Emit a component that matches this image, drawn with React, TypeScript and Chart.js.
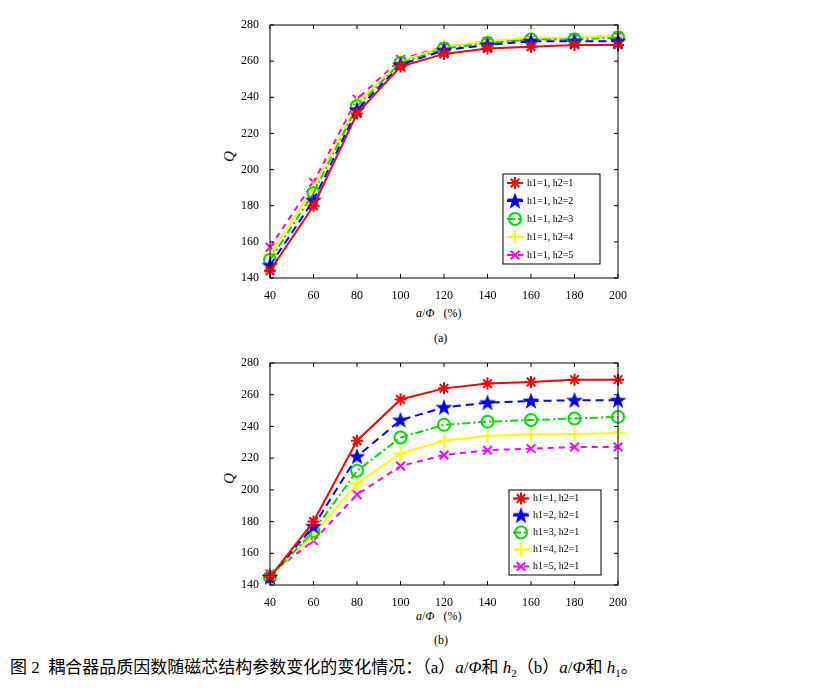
import React, { useEffect, useRef } from "react";
import { Chart, registerables } from "chart.js";
import { drawPoint } from "chart.js/helpers";
Chart.register(...registerables);

const xLabels = [40, 60, 80, 100, 120, 140, 160, 180, 200];
const yTicks = [140, 160, 180, 200, 220, 240, 260, 280];

const aNames = ["h1=1, h2=1", "h1=1, h2=2", "h1=1, h2=3", "h1=1, h2=4", "h1=1, h2=5"];
const a1 = [144, 180, 231, 257, 264, 267, 268, 269, 269];
const a2 = [147, 183, 233, 258, 266, 269, 271, 271, 271];
const a3 = [150, 187, 235, 259, 267, 270, 272, 272, 273];
const a4 = [153, 190, 237, 260, 268, 271, 273, 273, 274];
const a5 = [157, 193, 239, 261, 268, 271, 272, 273, 274];

const bNames = ["h1=1, h2=1", "h1=2, h2=1", "h1=3, h2=1", "h1=4, h2=1", "h1=5, h2=1"];
const b1 = [145, 180, 231, 257, 264, 267, 268, 269.5, 269.5];
const b2 = [145, 177, 221, 244, 252, 255, 256, 256.5, 256.5];
const b3 = [145, 174, 212, 233, 241, 243, 244, 245, 246];
const b4 = [146, 172, 204, 223, 231, 234, 235, 235, 236];
const b5 = [147, 168, 197, 215, 222, 225, 226, 227, 227];

const colors = ["#ff0000", "#0000ff", "#00dd00", "#ffff00", "#ff00ff"];
const dashes = [[], [8, 5], [8, 3, 2, 3], [], [6, 5]];

function makeStar(): HTMLCanvasElement {
  const c = document.createElement("canvas");
  c.width = 18; c.height = 18;
  const g = c.getContext("2d")!;
  g.fillStyle = "#0000ff";
  g.beginPath();
  for (let i = 0; i < 10; i++) {
    const r = i % 2 === 0 ? 9 : 3.6;
    const ang = -Math.PI / 2 + (i * Math.PI) / 5;
    const px = 9 + r * Math.cos(ang), py = 9.5 + r * Math.sin(ang);
    i === 0 ? g.moveTo(px, py) : g.lineTo(px, py);
  }
  g.closePath();
  g.fill();
  return c;
}

const FONT = "'Liberation Serif', 'DejaVu Serif', serif";

function PanelChart({ names, series, legendBox, h }: { names: string[]; series: number[][]; legendBox: number[]; h: number }) {
  const ref = useRef<HTMLCanvasElement>(null);
  useEffect(() => {
    const star = makeStar();
    const styles: any[] = ["star", star, "circle", "cross", "crossRot"];
    const sizes = [6, 9, 6, 7, 6];
    const datasets = series.map((d, i) => ({
      label: names[i],
      data: d,
      borderColor: colors[i],
      backgroundColor: i === 2 ? "rgba(0,0,0,0)" : colors[i],
      borderWidth: 2,
      borderDash: dashes[i],
      pointStyle: styles[i],
      pointRadius: sizes[i],
      pointBorderWidth: 2,
      tension: 0,
    }));
    const frame = {
      id: "frame",
      afterDraw(chart: any) {
        const { ctx, chartArea: a, scales } = chart;
        ctx.save();
        ctx.strokeStyle = "#000";
        ctx.lineWidth = 1;
        ctx.strokeRect(a.left, a.top, a.right - a.left, a.bottom - a.top);
        ctx.beginPath();
        xLabels.forEach((v, i) => {
          const x = scales.x.getPixelForValue(i);
          ctx.moveTo(x, a.bottom); ctx.lineTo(x, a.bottom - 4);
          ctx.moveTo(x, a.top); ctx.lineTo(x, a.top + 4);
        });
        yTicks.forEach((v) => {
          const y = scales.y.getPixelForValue(v);
          ctx.moveTo(a.left, y); ctx.lineTo(a.left + 4, y);
          ctx.moveTo(a.right, y); ctx.lineTo(a.right - 4, y);
        });
        ctx.stroke();
        const [lx, ly, lw, lh] = legendBox;
        ctx.fillStyle = "#fff";
        ctx.fillRect(lx, ly, lw, lh);
        ctx.strokeRect(lx, ly, lw, lh);
        const step = lh / 5;
        ctx.font = "10px " + FONT;
        ctx.textBaseline = "middle";
        datasets.forEach((ds, i) => {
          const y = ly + step * (i + 0.5);
          ctx.strokeStyle = ds.borderColor;
          ctx.lineWidth = 2;
          ctx.setLineDash(ds.borderDash);
          ctx.beginPath();
          ctx.moveTo(lx + 4, y); ctx.lineTo(lx + 20, y);
          ctx.stroke();
          ctx.setLineDash([]);
          ctx.fillStyle = ds.backgroundColor;
          drawPoint(ctx, { pointStyle: ds.pointStyle, radius: ds.pointRadius, borderWidth: 2, rotation: 0 } as any, lx + 12, y);
          ctx.fillStyle = "#000";
          ctx.fillText(ds.label, lx + 24, y);
        });
        ctx.restore();
      },
    };
    const chart = new Chart(ref.current!, {
      type: "line",
      data: { labels: xLabels, datasets },
      options: {
        animation: false,
        responsive: false,
        layout: { padding: { top: 15, right: 12, left: 0, bottom: 0 } },
        plugins: { legend: { display: false }, tooltip: { enabled: false } },
        scales: {
          x: {
            offset: false,
            grid: { display: false },
            border: { display: false },
            ticks: { color: "#000", font: { family: FONT, size: 12 }, maxRotation: 0 },
            afterFit: (s: any) => { s.height = 22; },
          },
          y: {
            min: 140,
            max: 280,
            grid: { display: false },
            border: { display: false },
            ticks: { color: "#000", stepSize: 20, font: { family: FONT, size: 12 } },
            afterFit: (s: any) => { s.width = 40; },
          },
        },
      },
      plugins: [frame],
    });
    return () => chart.destroy();
  }, []);
  return <canvas ref={ref} width={400} height={h} style={{ width: 400, height: h, display: "block" }} />;
}

const txt = (l: number, t: number, s: any, c: any) => (
  <div style={{ position: "absolute", left: l, top: t, fontFamily: FONT, fontSize: 12, color: "#000", whiteSpace: "nowrap", ...s }}>{c}</div>
);

export default function App() {
  return (
    <div style={{ position: "relative", width: 819, height: 672, background: "#fff" }}>
      <div style={{ position: "absolute", left: 222, top: 2 }}>
        <PanelChart names={aNames} series={[a1, a2, a3, a4, a5]} legendBox={[273, 164, 97, 90]} h={290} />
      </div>
      {txt(216, 140, { fontStyle: "italic", transform: "rotate(-90deg)", fontSize: 15 }, "Q")}
      {txt(408, 298, { fontSize: 12 }, <span><i>a</i>/<i>Φ</i>&nbsp;&nbsp;&nbsp;(%)</span>)}
      {txt(426, 323, {}, "(a)")}

      <div style={{ position: "absolute", left: 222, top: 340 }}>
        <PanelChart names={bNames} series={[b1, b2, b3, b4, b5]} legendBox={[279, 142, 92, 85]} h={259} />
      </div>
      {txt(216, 462, { fontStyle: "italic", transform: "rotate(-90deg)", fontSize: 15 }, "Q")}
      {txt(408, 601, { fontSize: 12 }, <span><i>a</i>/<i>Φ</i>&nbsp;&nbsp;&nbsp;(%)</span>)}
      {txt(426, 625, {}, "(b)")}

      {txt(2, 645, { fontSize: 17, fontFamily: "'Liberation Serif', 'Noto Sans CJK SC', serif" },
        <span>图 2&nbsp;&nbsp;耦合器品质因数随磁芯结构参数变化的变化情况：（a）<i>a</i>/<i>Φ</i>和 <i>h</i><sub style={{ fontSize: 11 }}>2</sub>（b）<i>a</i>/<i>Φ</i>和 <i>h</i><sub style={{ fontSize: 11 }}>1</sub>。</span>)}
    </div>
  );
}
